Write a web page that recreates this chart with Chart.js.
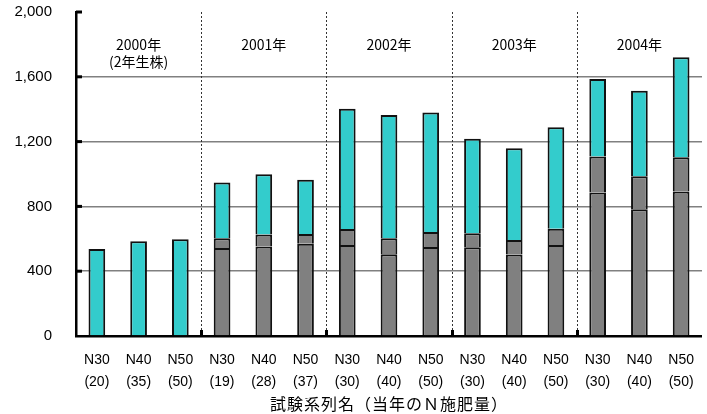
<!DOCTYPE html>
<html>
<head>
<meta charset="utf-8">
<script src="https://cdn.jsdelivr.net/npm/chart.js@4"></script>
<style>
  html, body { margin: 0; padding: 0; background: #fff; }
</style>
</head>
<body>
<canvas id="chart" width="707" height="414"></canvas>
<script>
// categories: treatment name + N amount of the year
const treatments = ['N30', 'N40', 'N50', 'N30', 'N40', 'N50', 'N30', 'N40', 'N50', 'N30', 'N40', 'N50', 'N30', 'N40', 'N50'];
const nAmounts = ['(20)', '(35)', '(50)', '(19)', '(28)', '(37)', '(30)', '(40)', '(50)', '(30)', '(40)', '(50)', '(30)', '(40)', '(50)'];
const years = [['2000年', '(2年生株)'], ['2001年'], ['2002年'], ['2003年'], ['2004年']];

// stacked segments
const lowerPart = [0, 0, 0, 543, 552, 570, 562, 505, 550, 548, 503, 562, 886, 782, 892];
const middlePart = [0, 0, 0, 60, 74, 60, 98, 98, 92, 86, 90, 100, 222, 204, 212];
const upperPart = [537, 585, 597, 345, 373, 334, 743, 761, 738, 584, 566, 626, 478, 528, 617];

const yTicks = [0, 400, 800, 1200, 1600, 2000];

const FONT = '"Liberation Sans", Arial, "Noto Sans CJK JP", sans-serif';
const JP_FONT = '"Noto Sans CJK JP", "Liberation Sans", sans-serif';

const labels = treatments.map((t, i) => [t, nAmounts[i]]);

const decorPlugin = {
    id: 'decor',
    afterDraw(chart) {
        const { ctx, chartArea, scales } = chart;
        const x = scales.x, y = scales.y;
        ctx.save();

        // group dividers
        for (let g = 1; g < years.length; g++) {
            const px = Math.round((x.getPixelForValue(g * 3 - 1) + x.getPixelForValue(g * 3)) / 2) + 0.5;
            ctx.strokeStyle = '#333';
            ctx.lineWidth = 1;
            ctx.setLineDash([2, 2]);
            ctx.beginPath();
            ctx.moveTo(px, chartArea.top);
            ctx.lineTo(px, chartArea.bottom);
            ctx.stroke();
            ctx.setLineDash([]);
            ctx.fillStyle = '#000';
            ctx.fillRect(px - 1.5, chartArea.bottom - 6, 3, 6);
        }

        // inner ticks on the y axis
        ctx.fillStyle = '#000';
        yTicks.forEach(v => {
            if (v === 0) return;
            const py = y.getPixelForValue(v);
            ctx.fillRect(chartArea.left, py - 1.5, 6, 3);
        });

        // year labels
        ctx.fillStyle = '#000';
        ctx.textAlign = 'center';
        ctx.textBaseline = 'middle';
        ctx.font = '14px ' + JP_FONT;
        years.forEach((lines, g) => {
            const cx = x.getPixelForValue(g * 3 + 1);
            lines.forEach((s, k) => ctx.fillText(s, cx, chartArea.top + 33 + k * 17));
        });

        // axis title
        ctx.font = '16px ' + JP_FONT;
        ctx.letterSpacing = '1px';
        ctx.fillText('試験系列名（当年のＮ施肥量）', 389, 404);
        ctx.restore();
    }
};

const barStyle = { borderColor: '#111', borderWidth: 2, barPercentage: 0.4, categoryPercentage: 1 };

new Chart(document.getElementById('chart').getContext('2d'), {
    type: 'bar',
    data: {
        labels: labels,
        datasets: [
            Object.assign({ label: 'lower', data: lowerPart, backgroundColor: '#808080' }, barStyle),
            Object.assign({ label: 'middle', data: middlePart, backgroundColor: '#808080' }, barStyle),
            Object.assign({ label: 'upper', data: upperPart, backgroundColor: '#33cccc' }, barStyle)
        ]
    },
    options: {
        responsive: false,
        animation: false,
        layout: { padding: { top: 11, right: 1, left: 0, bottom: 0 } },
        plugins: { legend: { display: false }, tooltip: { enabled: false } },
        scales: {
            x: {
                stacked: true,
                grid: { display: false, drawTicks: false },
                border: { color: '#000', width: 2.5 },
                ticks: { color: '#000', font: { family: FONT, size: 14, lineHeight: 1.58 }, padding: 13, maxRotation: 0, autoSkip: false },
                afterFit: s => { s.height = 78; }
            },
            y: {
                stacked: true,
                min: 0,
                max: 2000,
                afterBuildTicks: s => { s.ticks = yTicks.map(v => ({ value: v })); },
                grid: {
                    drawTicks: true,
                    tickLength: 21,
                    tickColor: 'rgba(0,0,0,0)',
                    lineWidth: 1.5,
                    color: c => (c.tick && (c.tick.value === 0 || c.tick.value === 2000)) ? 'rgba(0,0,0,0)' : '#808080'
                },
                border: { color: '#000', width: 2.5 },
                ticks: {
                    color: '#000',
                    padding: 3,
                    font: { family: FONT, size: 15 },
                    callback: v => v.toLocaleString('en-US')
                },
                afterFit: s => { s.width = 76; }
            }
        }
    },
    plugins: [decorPlugin]
});
</script>
</body>
</html>
